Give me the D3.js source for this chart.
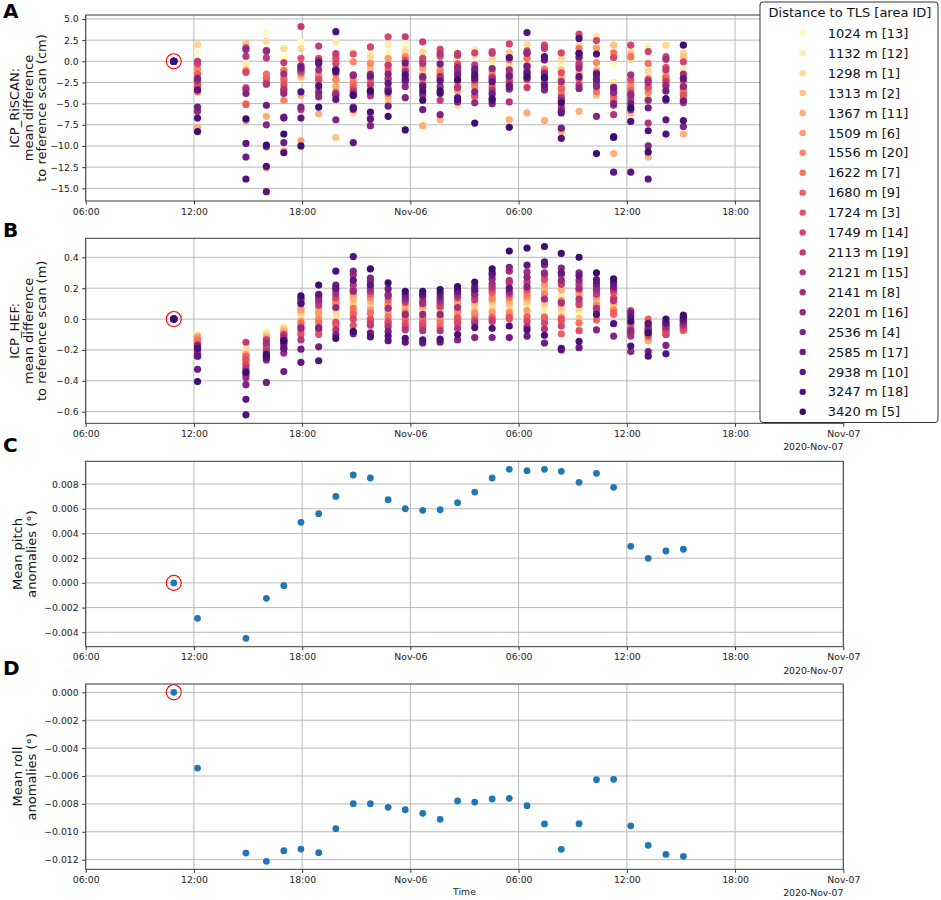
<!DOCTYPE html>
<html>
<head>
<meta charset="utf-8">
<script src="https://cdn.jsdelivr.net/npm/d3@7"></script>
<style>
body{margin:0;background:#fff;}
svg{display:block;font-family:"DejaVu Sans",sans-serif;}
</style>
</head>
<body>
<svg id="chart" width="941" height="900"></svg>
<script>
// ---------------- DATA ----------------
const distances = [1024,1132,1298,1313,1367,1509,1556,1622,1680,1724,1749,2113,2121,2141,2201,2536,2585,2938,3247,3420];
const areaIds   = [13,12,1,2,11,6,20,7,9,3,14,19,15,8,16,4,17,10,18,5];

const scanTimes = ["2020-11-05 10:53","2020-11-05 12:12","2020-11-05 14:53","2020-11-05 16:01","2020-11-05 16:59",
  "2020-11-05 17:56","2020-11-05 18:55","2020-11-05 19:52","2020-11-05 20:50","2020-11-05 21:47","2020-11-05 22:46",
  "2020-11-05 23:43","2020-11-06 00:41","2020-11-06 01:39","2020-11-06 02:37","2020-11-06 03:34","2020-11-06 04:32",
  "2020-11-06 05:29","2020-11-06 06:28","2020-11-06 07:26","2020-11-06 08:22","2020-11-06 09:21","2020-11-06 10:19",
  "2020-11-06 11:16","2020-11-06 12:13","2020-11-06 13:11","2020-11-06 14:10","2020-11-06 15:08"];
const referenceTime = "2020-11-05 10:53";

// ICP RiSCAN mean difference (cm): one row per scan time, values ordered as `distances`
const riscanByTime = [
  [0,0,0,0,0,0,0,0,0,0,0,0,0,0,0,0,0,0,0,0],
  [1.1,-1.2,2.0,-2.6,-7.8,-3.0,-0.9,-3.6,-1.5,-2.8,-0.3,0.0,-3.3,-2.3,-5.9,-2.0,-5.4,-3.4,-6.7,-8.3],
  [-0.5,-0.3,2.0,2.1,-1.0,-5.0,-7.0,-1.2,-5.1,-3.1,-1.3,1.6,0.6,-3.3,1.4,-3.8,-11.3,-9.7,-13.9,-6.8],
  [3.4,-1.6,2.4,-2.2,-6.5,-12.6,-2.4,-1.5,-2.0,-2.6,1.3,0.4,-2.7,-10.1,1.2,-7.5,-5.2,-15.4,-12.4,-9.9],
  [0.6,-1.8,1.5,-1.0,-2.0,-10.6,-4.6,-1.1,-2.2,-2.8,-3.5,-0.15,-3.3,-1.5,-3.8,-6.6,-9.6,-6.7,-10.8,-8.6],
  [2.3,-2.0,1.5,-1.8,-4.0,-9.4,-1.5,-1.0,-1.3,0.35,-1.2,4.1,-5.7,-0.5,-0.9,-5.4,-0.7,-6.7,-3.6,-10.0],
  [-1.2,-1.5,-1.4,-2.4,-6.2,-1.6,-2.0,-1.8,-3.3,0.35,-2.2,1.8,0.1,-1.0,-4.2,-3.7,-0.3,-0.1,-2.9,-5.4],
  [-2.5,2.2,-2.9,-9.0,-3.0,0.55,-2.2,-3.6,-1.5,0.3,-0.25,0.9,-3.8,-1.0,-4.0,-6.9,-0.95,-4.5,3.5,-1.2],
  [-1.5,1.1,-6.1,-3.1,-2.0,-2.4,-0.05,-2.6,-3.0,0.85,-3.4,-5.7,-1.7,-3.6,-1.6,-5.4,-4.0,-9.6,-5.6,-4.0],
  [0.95,-1.2,0.55,-0.85,-2.5,-6.3,-0.25,-2.4,-3.4,-2.0,1.7,-2.8,-4.1,-1.5,-3.7,-7.6,-1.75,-6.8,-6.0,-3.5],
  [1.1,2.0,-0.7,-4.8,-4.2,0.35,-0.5,-3.8,-1.0,-2.2,2.9,-0.45,-2.0,-3.2,-3.4,-1.5,-5.3,-2.6,-3.6,-6.5],
  [2.1,1.4,1.1,0.5,-0.5,-1.0,0.55,-0.8,-1.8,0.15,-2.0,2.9,-2.4,-1.2,-3.0,-4.3,-0.2,-2.2,-1.6,-8.1],
  [1.3,-0.6,1.1,-1.4,-7.6,-0.8,-2.5,-1.9,0.0,-2.0,0.35,2.3,-0.25,-2.8,-4.0,-1.8,-5.7,-3.0,-3.5,-4.6],
  [1.0,0.8,-0.5,-2.5,-6.9,-1.2,-1.0,-1.5,-2.0,0.6,1.4,-4.6,0.9,-1.8,-3.0,-6.3,-0.3,-2.3,-3.8,-3.5],
  [0.1,-1.3,-5.2,-2.8,-2.0,-3.5,-1.8,-2.4,-1.0,-0.3,0.95,0.7,-3.1,-1.2,-0.7,-4.8,-1.6,-4.3,-4.5,-2.2],
  [0.9,1.35,0.75,-2.4,-4.3,-4.0,-3.0,-2.6,-1.8,-4.1,1.0,-0.45,-1.2,-2.2,-4.9,-3.6,-0.9,-2.0,-1.6,-7.3],
  [-0.25,0.3,0.25,-2.8,-4.0,-1.6,-1.2,-2.2,-3.0,-1.8,1.15,0.95,-3.4,-2.0,-0.85,-5.0,-3.8,-2.4,-4.4,-4.6],
  [-0.2,0.6,-0.5,1.0,-6.9,-1.3,-2.0,-2.3,0.2,-1.5,2.05,-2.4,-4.8,-1.0,-3.3,-2.8,-1.75,-3.0,0.45,-7.8],
  [-0.05,0.6,2.0,0.3,-6.1,-0.9,-1.5,0.35,-2.2,-0.5,1.25,-3.1,-1.2,1.0,0.95,-2.0,-0.6,-1.4,3.4,-1.8],
  [0.4,0.2,-1.6,-1.8,-7.0,-0.9,-1.2,-1.0,-2.3,-2.6,1.9,1.5,-3.1,-2.0,-1.4,-3.4,0.15,-2.8,0.55,-1.9],
  [-0.15,0.2,0.25,-1.0,-8.3,-2.0,-3.0,-3.85,-3.3,-1.35,1.0,-5.4,-4.3,-2.4,-4.6,-5.8,-7.9,-6.1,-9.1,-4.9],
  [-1.2,0.4,1.9,-2.0,-5.9,-1.4,0.35,1.5,-0.5,-2.1,3.2,-0.25,-2.8,0.9,-0.8,-3.2,0.5,-1.8,2.7,0.95],
  [-2.2,3.0,2.6,-4.0,-1.0,1.55,-0.15,-3.6,-1.7,-2.9,2.45,-1.35,-2.0,-2.7,-3.0,-6.5,-2.2,-1.5,0.85,-10.9],
  [-0.25,-2.5,-2.8,1.9,-10.9,-3.0,-4.6,1.0,-4.2,-3.4,0.45,-5.2,-6.3,-3.6,-3.7,-5.0,-3.1,-13.1,-9.0,-8.9],
  [1.15,0.5,0.2,1.0,-6.1,-2.6,-3.0,0.55,-3.4,-2.2,1.9,-4.5,-3.8,-1.6,-4.0,-5.7,-5.0,-13.1,-7.1,-5.5],
  [1.75,1.5,-1.2,-4.4,-11.3,-2.0,-3.7,-0.25,-3.2,-3.0,1.15,-2.2,-7.3,-2.5,-4.6,-10.0,-5.5,-13.9,-8.2,-10.7],
  [0.0,-1.2,1.9,-1.5,-2.0,-2.3,-1.8,-3.0,-2.0,-0.7,0.55,-2.4,-1.0,0.25,-2.8,-4.6,-3.5,-6.9,-8.6,-4.4],
  [-1.2,-1.0,1.0,0.6,-8.6,-2.8,-3.2,-3.6,-4.5,-4.0,-0.05,-4.9,-2.2,-1.5,-3.0,-7.7,-4.7,-2.0,-7.0,1.9]
];

// ICP HEF mean difference (m): one row per scan time, values ordered as `distances`
const hefByTime = [
  [0,0,0,0,0,0,0,0,0,0,0,0,0,0,0,0,0,0,0,0],
  [-0.10,-0.105,-0.11,-0.11,-0.12,-0.12,-0.13,-0.14,-0.16,-0.18,-0.20,-0.22,-0.24,-0.21,-0.23,-0.17,-0.325,-0.24,-0.19,-0.405],
  [-0.20,-0.19,-0.21,-0.22,-0.23,-0.275,-0.27,-0.29,-0.24,-0.26,-0.30,-0.15,-0.32,-0.38,-0.36,-0.425,-0.34,-0.52,-0.62,-0.345],
  [-0.09,-0.085,-0.10,-0.11,-0.12,-0.13,-0.15,-0.17,-0.18,-0.20,-0.19,-0.135,-0.21,-0.155,-0.225,-0.265,-0.41,-0.25,-0.24,-0.23],
  [-0.06,-0.05,-0.06,-0.07,-0.08,-0.09,-0.10,-0.11,-0.13,-0.15,-0.17,-0.19,-0.10,-0.12,-0.22,-0.16,-0.34,-0.19,-0.14,-0.14],
  [0.02,0.03,0.04,0.05,0.07,0.06,-0.015,-0.03,-0.08,-0.10,-0.05,0.10,-0.135,0.12,-0.06,0.135,-0.195,-0.28,0.10,0.15],
  [0.03,0.02,0.05,0.06,0.07,0.04,0.0,-0.02,-0.075,-0.10,-0.05,0.09,0.11,0.125,0.14,-0.06,-0.18,0.16,-0.27,0.22],
  [0.0,0.02,0.05,0.07,0.09,0.10,0.11,0.125,-0.04,-0.02,0.14,0.19,-0.07,0.165,0.075,-0.10,0.22,0.20,0.31,-0.125],
  [0.08,0.09,0.10,0.12,0.135,0.16,0.045,0.07,0.03,-0.04,0.0,0.19,0.22,0.285,0.18,0.31,-0.095,0.25,0.405,-0.08],
  [0.07,0.08,0.095,0.11,0.12,0.06,0.14,0.04,0.16,0.0,-0.02,-0.04,0.18,0.20,0.245,0.265,-0.09,0.22,-0.115,0.325],
  [0.05,0.06,0.07,0.08,0.09,0.045,0.1,0.015,0.125,-0.015,-0.03,0.16,-0.05,0.07,0.15,-0.08,0.195,-0.14,-0.11,0.235],
  [0.04,0.05,0.06,0.07,0.08,0.095,0.045,0.02,-0.005,-0.03,-0.05,0.11,-0.07,0.125,0.03,0.14,0.16,-0.15,-0.125,0.18],
  [0.04,0.05,0.06,0.07,0.08,0.09,-0.045,0.005,-0.02,-0.03,-0.05,0.115,-0.075,0.10,0.03,0.145,-0.155,0.16,-0.135,0.18],
  [0.04,0.05,0.06,0.07,0.005,0.02,-0.01,-0.025,-0.05,0.08,0.09,0.105,-0.075,0.12,0.03,0.14,-0.15,0.165,-0.13,0.19],
  [0.025,0.04,0.05,0.06,0.1,0.115,0.045,-0.005,-0.03,0.01,-0.02,0.14,-0.06,0.075,0.16,-0.135,0.18,0.19,-0.10,0.21],
  [0.07,0.08,0.06,0.095,0.11,0.045,0.03,0.005,0.155,0.14,-0.01,0.125,-0.025,0.18,0.16,-0.12,0.21,0.19,-0.055,0.24],
  [0.075,0.09,0.06,0.11,0.14,0.045,0.13,0.015,0.17,0.0,0.19,-0.015,0.21,0.23,0.26,-0.12,0.285,0.30,-0.06,0.325],
  [0.055,0.07,0.08,0.1,0.115,0.045,0.03,0.14,0.0,0.01,0.16,0.235,0.25,0.31,0.175,0.335,-0.12,0.20,-0.045,0.44],
  [0.08,0.09,0.105,0.12,0.135,0.055,0.15,0.17,0.015,0.19,-0.015,0.24,-0.05,0.305,0.27,0.21,-0.11,0.35,-0.07,0.46],
  [0.055,0.07,0.095,0.11,0.19,0.22,0.16,0.015,0.0,0.255,-0.025,0.285,-0.065,0.13,0.30,0.35,-0.155,0.37,-0.105,0.47],
  [0.04,0.155,0.06,0.08,0.19,0.015,0.12,-0.015,-0.095,0.0,-0.045,0.225,0.285,0.105,0.25,0.33,-0.20,0.3,-0.19,0.425],
  [0.03,0.05,0.07,0.005,0.155,0.17,0.11,-0.025,0.19,-0.075,0.095,0.225,0.13,0.2,0.25,0.30,-0.185,0.28,-0.145,0.40],
  [0.10,0.12,0.11,0.13,0.14,0.145,0.09,0.07,-0.005,0.05,0.18,0.16,0.07,0.19,0.21,-0.07,0.23,0.255,0.03,0.30],
  [0.08,0.09,0.095,0.1,0.11,0.055,0.06,0.03,0.04,0.17,0.135,0.19,0.12,0.2,0.22,-0.11,0.21,0.24,-0.03,0.26],
  [0.03,0.025,0.02,0.01,0.03,0.0,-0.02,-0.035,-0.05,-0.085,-0.065,0.055,-0.11,-0.09,-0.075,-0.21,0.04,0.015,-0.175,-0.015],
  [-0.13,-0.12,-0.13,-0.14,-0.14,-0.12,-0.10,-0.09,0.0,-0.11,-0.08,-0.025,-0.07,-0.045,-0.06,-0.075,-0.21,-0.03,-0.24,-0.09],
  [-0.07,-0.08,-0.075,-0.085,-0.09,-0.095,-0.08,-0.1,-0.08,-0.07,-0.10,-0.06,-0.045,-0.05,-0.035,-0.17,-0.02,-0.025,-0.225,0.0],
  [-0.02,-0.03,-0.025,-0.035,-0.04,-0.045,-0.05,-0.06,-0.075,-0.065,-0.05,-0.04,-0.015,-0.035,-0.02,0.005,-0.01,0.0,0.015,0.025]
];

// Mean pitch / roll anomalies (degrees), one per scan time
const pitchAnomalies = [0,-0.00287,-0.00449,-0.00125,-0.00023,0.0049,0.0056,0.0070,0.00873,0.00849,0.00673,0.0060,
  0.00587,0.00592,0.00649,0.00735,0.00849,0.00919,0.00908,0.00919,0.00903,0.00814,0.00887,0.00773,0.00296,0.00199,0.00258,0.00272];
const rollAnomalies = [0,-0.00543,-0.01153,-0.01212,-0.01136,-0.01124,-0.0115,-0.00978,-0.00799,-0.00799,-0.00825,-0.00842,
  -0.00868,-0.00911,-0.00779,-0.00787,-0.00765,-0.0076,-0.00813,-0.00944,-0.01126,-0.00942,-0.00627,-0.00624,-0.00957,-0.01097,-0.01162,-0.01176];

// Tick values
const riscanTicks = [5,2.5,0,-2.5,-5,-7.5,-10,-12.5,-15];
const hefTicks = [0.4,0.2,0,-0.2,-0.4,-0.6];
const pitchTicks = [0.008,0.006,0.004,0.002,0,-0.002,-0.004];
const rollTicks = [0,-0.002,-0.004,-0.006,-0.008,-0.010,-0.012];
const timeStart = "2020-11-05 06:00", timeEnd = "2020-11-07 00:00";
const offsetLabel = "2020-Nov-07";
const legendTitle = "Distance to TLS [area ID]";

// ---------------- DRAW ----------------
const parse = d3.timeParse("%Y-%m-%d %H:%M");
const times = scanTimes.map(parse);
const refT = parse(referenceTime);
const tEnd = parse(timeEnd);
const svg = d3.select("#chart");
const X0 = 85.7, X1 = 843.3;
const x = d3.scaleTime().domain([parse(timeStart), tEnd]).range([X0, X1]);
const nSeries = distances.length;
const colorOf = i => d3.interpolateMagma(1 - i * 0.8 / (nSeries - 1));
const tickFont = 9.3;
const fmtTime = d => (d.getHours() === 0 ? d3.timeFormat("%b-%d")(d) : d3.timeFormat("%H:%M")(d));

const panels = [
  {letter:"A", top:15, bottom:201, dom:[-16.5,5.47], ticks:riscanTicks, fmt:d3.format(".1f"),
   label:["ICP_RiSCAN:","mean difference","to reference scan (cm)"], lx:[19,32.5,46], letterY:18, kind:"multi",
   rows:riscanByTime, hiddenRight:true},
  {letter:"B", top:238.3, bottom:423.3, dom:[-0.675,0.523], ticks:hefTicks, fmt:d3.format(".1f"),
   label:["ICP_HEF:","mean difference","to reference scan (m)"], lx:[19,32.5,46], letterY:236.5, kind:"multi", rows:hefByTime},
  {letter:"C", top:461.3, bottom:646.7, dom:[-0.005165,0.00984], ticks:pitchTicks, fmt:d3.format(".3f"),
   label:["Mean pitch","anomalies (°)"], lx:[22,35.5], letterY:452, kind:"single", vals:pitchAnomalies},
  {letter:"D", top:684, bottom:869.3, dom:[-0.01269,0.000595], ticks:rollTicks, fmt:d3.format(".3f"),
   label:["Mean roll","anomalies (°)"], lx:[22,35.5], letterY:675, kind:"single", vals:rollAnomalies, xlabel:"Time"}
];

panels.forEach(p => {
  const y = d3.scaleLinear().domain(p.dom).range([p.bottom, p.top]);
  const g = svg.append("g");
  // grid
  const xt = x.ticks(d3.timeHour.every(6));
  g.append("g").selectAll("line").data(xt).join("line")
    .attr("x1", d => x(d)).attr("x2", d => x(d)).attr("y1", p.top).attr("y2", p.bottom)
    .attr("stroke", "#b9b9b9").attr("stroke-width", 1);
  g.append("g").selectAll("line").data(p.ticks).join("line")
    .attr("x1", X0).attr("x2", X1).attr("y1", d => y(d)).attr("y2", d => y(d))
    .attr("stroke", "#b9b9b9").attr("stroke-width", 1);

  // points
  if (p.kind === "multi") {
    for (let s = 0; s < nSeries; s++) {
      g.append("g").selectAll("circle").data(times.map((t, k) => ({t, v: p.rows[k][s]}))).join("circle")
        .attr("cx", d => x(d.t)).attr("cy", d => y(d.v)).attr("r", 3.6).attr("fill", colorOf(s));
    }
  } else {
    g.append("g").selectAll("circle").data(times.map((t, k) => ({t, v: p.vals[k]}))).join("circle")
      .attr("cx", d => x(d.t)).attr("cy", d => y(d.v)).attr("r", 3.4).attr("fill", "#1f77b4");
  }
  // reference circle
  g.append("circle").attr("cx", x(refT)).attr("cy", y(0)).attr("r", 7.5)
    .attr("fill", "none").attr("stroke", "red").attr("stroke-width", 1.1);

  // axes
  const ax = g.append("g").attr("transform", `translate(0,${p.bottom})`)
    .call(d3.axisBottom(x).ticks(d3.timeHour.every(6)).tickFormat(fmtTime).tickSize(3.5).tickPadding(3.5));
  const ay = g.append("g").attr("transform", `translate(${X0},0)`)
    .call(d3.axisLeft(y).tickValues(p.ticks).tickFormat(p.fmt).tickSize(3.5).tickPadding(3.5));
  [ax, ay].forEach(a => {
    a.select(".domain").remove();
    a.selectAll("line").attr("stroke", "#333");
    a.selectAll("text").attr("font-size", tickFont).attr("fill", "#222").attr("font-family", "DejaVu Sans");
  });
  // the last tick label of panel A sits under the legend (not visible in the figure)
  if (p.hiddenRight) ax.selectAll(".tick").filter(d => +d === +tEnd).select("text").remove();

  // frame
  g.append("rect").attr("x", X0).attr("y", p.top).attr("width", X1 - X0).attr("height", p.bottom - p.top)
    .attr("fill", "none").attr("stroke", "#3a3a3a").attr("stroke-width", 1);

  // offset label (hidden under the legend for panel A)
  if (!p.hiddenRight) {
    g.append("text").attr("x", X1).attr("y", p.bottom + 27).attr("text-anchor", "end")
      .attr("font-size", tickFont).attr("fill", "#222").text(offsetLabel);
  }
  if (p.xlabel) {
    g.append("text").attr("x", (X0 + X1) / 2).attr("y", p.bottom + 26).attr("text-anchor", "middle")
      .attr("font-size", tickFont).attr("fill", "#222").text(p.xlabel);
  }
  // y label
  const cy = (p.top + p.bottom) / 2;
  p.label.forEach((line, i) => {
    g.append("text").attr("transform", `translate(${p.lx[i]},${cy}) rotate(-90)`)
      .attr("text-anchor", "middle").attr("font-size", 13).attr("fill", "#111").text(line);
  });
  // panel letter
  svg.append("text").attr("x", 3).attr("y", p.letterY).attr("font-size", 20).attr("font-weight", "bold")
    .attr("fill", "#000").text(p.letter);
});

// legend
const lg = svg.append("g");
lg.append("rect").attr("x", 760).attr("y", 2).attr("width", 178).attr("height", 420.5).attr("rx", 3)
  .attr("fill", "#fff").attr("stroke", "#333").attr("stroke-width", 1);
lg.append("text").attr("x", 850).attr("y", 17).attr("text-anchor", "middle").attr("font-size", 13)
  .attr("fill", "#111").text(legendTitle);
const entries = lg.selectAll("g.e").data(distances.map((d, i) => ({d, id: areaIds[i], i}))).join("g")
  .attr("transform", d => `translate(0,${33.3 + d.i * 19.92})`);
entries.append("circle").attr("cx", 802.7).attr("cy", 0).attr("r", 3.2).attr("fill", d => colorOf(d.i));
entries.append("text").attr("x", 827.7).attr("y", 4.6).attr("font-size", 13).attr("fill", "#111")
  .text(d => `${d.d} m [${d.id}]`);
</script>
</body>
</html>
